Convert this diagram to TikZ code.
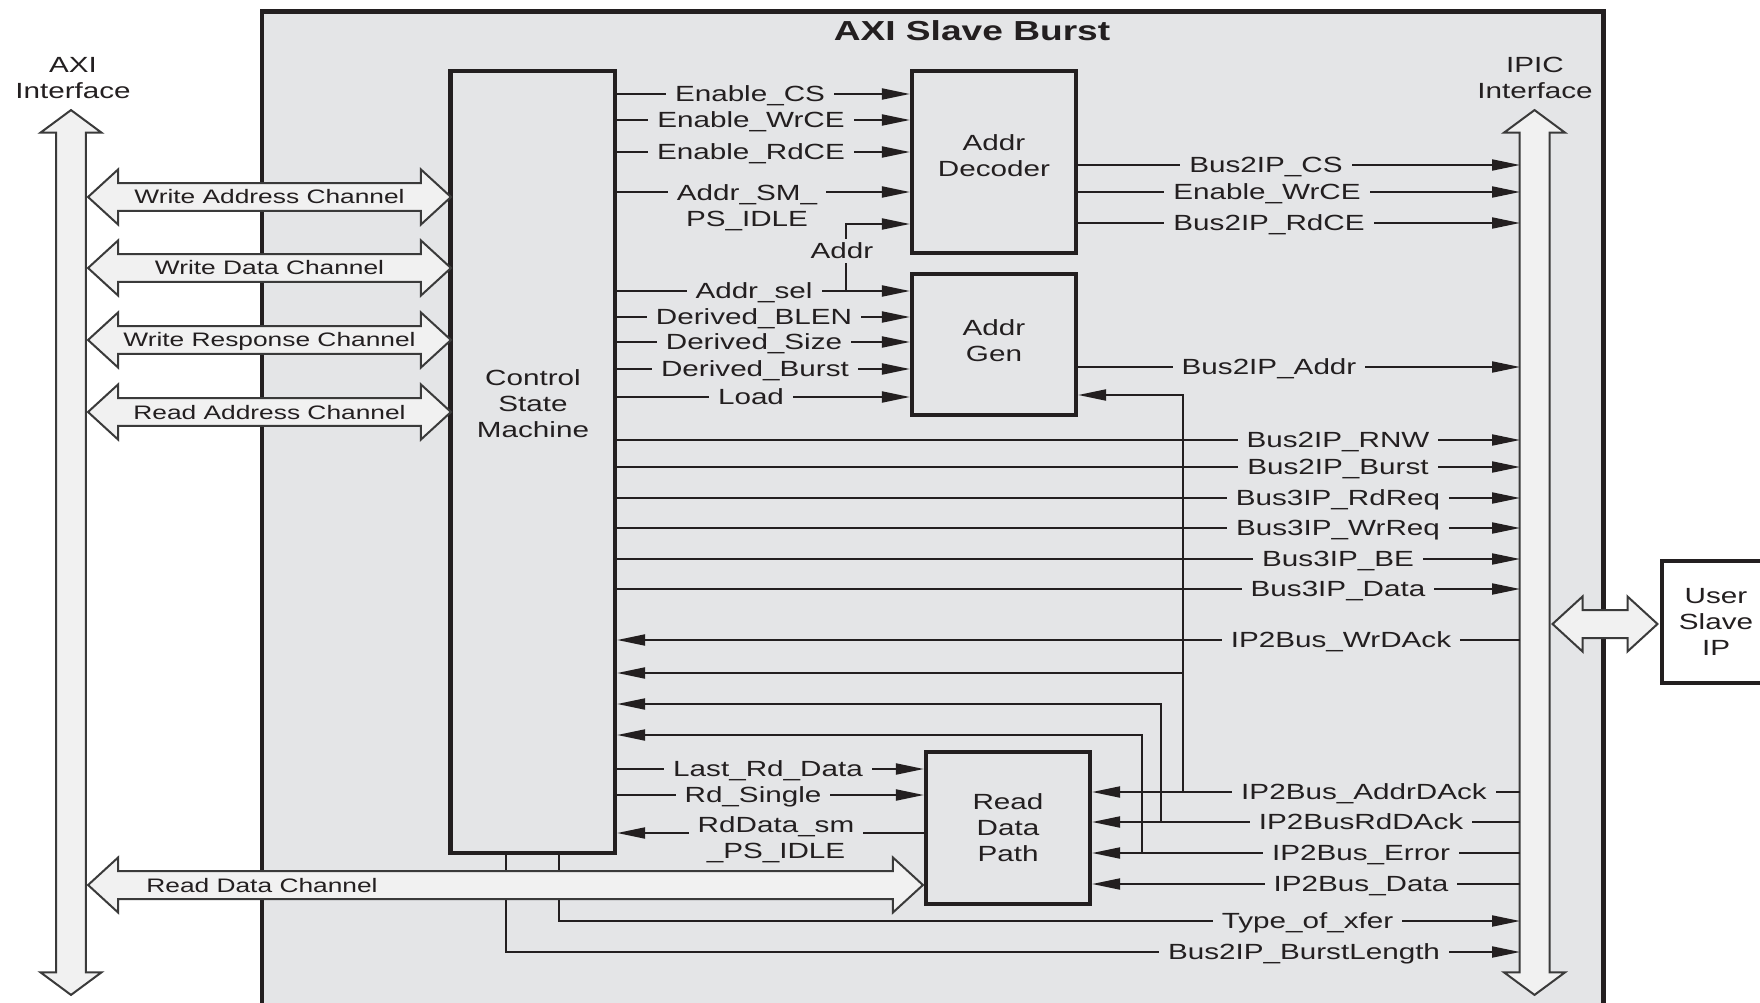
\documentclass[tikz,border=0pt]{standalone}
\usepackage{fontspec}
\setmainfont{Liberation Sans}[FakeStretch=1.35]
\usetikzlibrary{arrows.meta,shapes.arrows}
\definecolor{ink}{HTML}{231F20}
\definecolor{slavegray}{HTML}{E4E5E7}
\definecolor{busfill}{HTML}{F1F1F1}
\definecolor{busline}{HTML}{3A3A3A}

\begin{document}
\begin{tikzpicture}[x=0.02cm, y=-0.02cm,
    block/.style={draw=ink, line width=0.085cm, fill=slavegray, inner sep=0pt,
                  align=center, text=ink, font=\fontsize{12.5pt}{14.8pt}\selectfont},
    sig/.style={draw=ink, line width=0.04cm, -{Triangle[length=0.56cm,width=0.22cm]}},
    lbl/.style={fill=slavegray, text=ink, inner xsep=0.18cm, inner ysep=0pt,
                  text height=0.395cm, text depth=0.08cm,
                  font=\fontsize{12.5pt}{14.8pt}\selectfont},
    lbl2/.style={fill=slavegray, text=ink, inner xsep=0.18cm, inner ysep=0pt,
                  align=center, anchor=north, font=\fontsize{12.5pt}{14.8pt}\selectfont},
    txt/.style={text=ink, align=center, inner sep=0pt,
                  font=\fontsize{12.5pt}{14.8pt}\selectfont},
    hbus/.style={double arrow, draw=busline, fill=busfill, line width=0.04cm,
                  double arrow head extend=0.27cm, double arrow tip angle=85,
                  inner sep=0pt, text height=0.40cm, text depth=0.12cm,
                  minimum height=7.26cm, text=ink, font=\fontsize{11.1pt}{13pt}\selectfont},
    vbus/.style={double arrow, draw=busline, fill=busfill, line width=0.04cm,
                  double arrow head extend=0.31cm, double arrow tip angle=107,
                  inner xsep=0pt, inner ysep=0.28cm, minimum height=17.7cm, rotate=90},
  ]
    \path[use as bounding box, clip] (0,0) rectangle (1760,1003);

    % --- the core and its blocks -------------------------------------------
    \node[block, minimum width=26.84cm, minimum height=20.37cm] (slave) at (932.5,520.75) {};
    \node[txt, font=\fontsize{15.65pt}{18pt}\selectfont\bfseries] (title) at (972,31) {AXI Slave Burst};

    \node[block, minimum width=3.29cm, minimum height=15.64cm] (csm) at (532.75,462) {};
    \node[txt] (csmlbl) at (533,404) {Control\\State\\Machine};
    \node[block, minimum width=3.28cm, minimum height=3.64cm] (dec) at (994,162) {};
    \node[txt] (declbl) at (994,156) {Addr\\Decoder};
    \node[block, minimum width=3.28cm, minimum height=2.82cm] (gen) at (994,344.5) {};
    \node[txt] (genlbl) at (994,340.5) {Addr\\Gen};
    \node[block, minimum width=3.28cm, minimum height=3.04cm] (rdp) at (1008,828) {Read\\Data\\Path};
    \node[block, fill=white, minimum width=2.176cm, minimum height=2.44cm] (usr) at (1716,622) {User\\Slave\\IP};

    \node[txt] (axilbl) at (73,78) {AXI\\Interface};
    \node[txt] (ipiclbl) at (1535,78) {IPIC\\Interface};

    % --- interface buses ---------------------------------------------------
    \node[vbus] (axi) at (71,552.5) {};
    \node[vbus] (ipic) at (1534.5,552.5) {};
    \coordinate (ipicL) at ([xshift=-0.29cm]ipic.center);

    % --- control -> addr decoder / addr gen --------------------------------
    \foreach \yy/\xx/\txt [count=\i] in {94/750/Enable\_CS, 120/751/Enable\_WrCE, 152/751/Enable\_RdCE}{
      \draw[sig] (csm.east |- 0,\yy) -- (dec.west |- 0,\yy);
      \node[lbl] (a\i) at (\xx,\yy) {\txt};
    }
    \draw[sig] (csm.east |- 0,192) -- (dec.west |- 0,192);
    \node[lbl2] (a4) at (747,184) {Addr\_SM\_\\PS\_IDLE};
    \coordinate (tapAddr) at (846,291);
    \draw[sig] (tapAddr) |- (dec.west |- 0,224);
    \node[lbl] (addr) at (842,251) {Addr};
    \foreach \yy/\xx/\txt [count=\i] in {291/754/Addr\_sel, 317/754/Derived\_BLEN,
        342/754/Derived\_Size, 369/755/Derived\_Burst, 397/751/Load}{
      \draw[sig] (csm.east |- 0,\yy) -- (gen.west |- 0,\yy);
      \node[lbl] (b\i) at (\xx,\yy) {\txt};
    }

    % --- decoder / gen -> IPIC ---------------------------------------------
    \foreach \yy/\xx/\txt [count=\i] in {165/1266/Bus2IP\_CS, 192/1267/Enable\_WrCE, 223/1269/Bus2IP\_RdCE}{
      \draw[sig] (dec.east |- 0,\yy) -- (ipicL |- 0,\yy);
      \node[lbl] (c\i) at (\xx,\yy) {\txt};
    }
    \draw[sig] (gen.east |- 0,367) -- (ipicL |- 0,367);
    \node[lbl] (d1) at (1269,367) {Bus2IP\_Addr};

    % --- control <-> IPIC ----------------------------------------------------
    \foreach \yy/\txt [count=\i] in {440/Bus2IP\_RNW, 467/Bus2IP\_Burst, 498/Bus3IP\_RdReq,
        528/Bus3IP\_WrReq, 559/Bus3IP\_BE, 589/Bus3IP\_Data}{
      \draw[sig] (csm.east |- 0,\yy) -- (ipicL |- 0,\yy);
      \node[lbl] (e\i) at (1338,\yy) {\txt};
    }
    \draw[sig] (ipicL |- 0,640) -- (csm.east |- 0,640);
    \node[lbl] (f1) at (1341,640) {IP2Bus\_WrDAck};

    % --- IPIC -> read data path, with taps back to control -------------------
    \foreach \yy/\xx/\txt [count=\i] in {792/1364/IP2Bus\_AddrDAck, 822/1361/IP2BusRdDAck,
        853/1361/IP2Bus\_Error, 884/1361/IP2Bus\_Data}{
      \draw[sig] (ipicL |- 0,\yy) -- (rdp.east |- 0,\yy);
      \node[lbl] (g\i) at (\xx,\yy) {\txt};
    }
    \coordinate (tapA) at (1183,792);
    \coordinate (tapB) at (1161,822);
    \coordinate (tapC) at (1142,853);
    \draw[sig] (tapA) |- (gen.east |- 0,395);
    \draw[sig] (tapA |- 0,673) -- (csm.east |- 0,673);
    \draw[sig] (tapB) |- (csm.east |- 0,704);
    \draw[sig] (tapC) |- (csm.east |- 0,735);

    % --- control <-> read data path ------------------------------------------
    \foreach \yy/\xx/\txt [count=\i] in {769/768/Last\_Rd\_Data, 795/753/Rd\_Single}{
      \draw[sig] (csm.east |- 0,\yy) -- (rdp.west |- 0,\yy);
      \node[lbl] (h\i) at (\xx,\yy) {\txt};
    }
    \draw[sig] (rdp.west |- 0,833) -- (csm.east |- 0,833);
    \node[lbl2] (h3) at (776,816) {RdData\_sm\\\_PS\_IDLE};

    % --- control bottom -> IPIC ----------------------------------------------
    \draw[sig] (csm.south -| 559,0) |- (ipicL |- 0,921);
    \node[lbl] (k1) at (1307.5,921) {Type\_of\_xfer};
    \draw[sig] (csm.south -| 506,0) |- (ipicL |- 0,952);
    \node[lbl] (k2) at (1304,952) {Bus2IP\_BurstLength};

    % --- AXI channels ------------------------------------------------------
    \node[hbus] (wa) at (269.5,197) {Write Address Channel};
    \node[hbus] (wd) at (269.5,268) {Write Data Channel};
    \node[hbus] (wr) at (269.5,340) {Write Response Channel};
    \node[hbus] (ra) at (269.5,412) {Read Address Channel};
    \node[hbus, minimum height=16.7cm] (rdc) at (505.5,885) {};
    \node[txt, text height=0.40cm, text depth=0.12cm,
          font=\fontsize{11.1pt}{13pt}\selectfont] (rdclbl) at (262,885) {Read Data Channel};

    % --- user IP link ------------------------------------------------------
    \node[hbus, minimum height=2.1cm] (usrbus) at (1605,624) {};
  \end{tikzpicture}
\end{document}
